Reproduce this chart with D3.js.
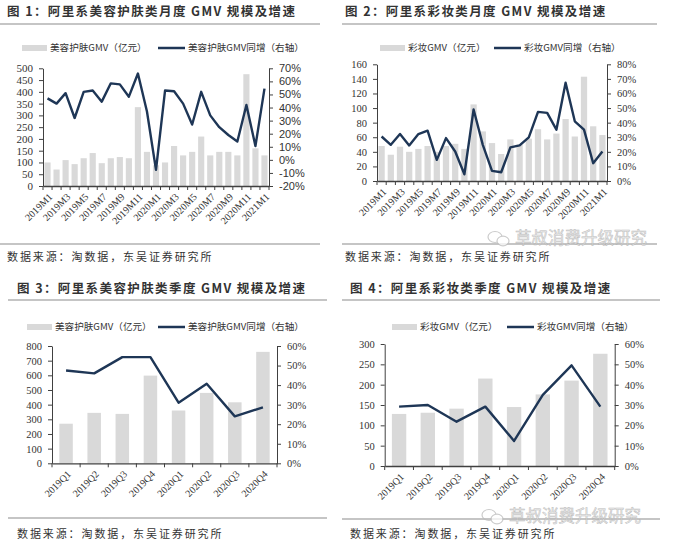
<!DOCTYPE html>
<html><head><meta charset="utf-8">
<script src="https://cdn.jsdelivr.net/npm/d3@7"></script>
<style>body{margin:0;background:#fff}</style>
</head><body>
<svg id="c" width="684" height="551"></svg>
<script>
// ---------- data ----------
const months = ["2019M1","2019M2","2019M3","2019M4","2019M5","2019M6","2019M7","2019M8","2019M9","2019M10","2019M11","2019M12",
  "2020M1","2020M2","2020M3","2020M4","2020M5","2020M6","2020M7","2020M8","2020M9","2020M10","2020M11","2020M12","2021M1"];
const quarters = ["2019Q1","2019Q2","2019Q3","2019Q4","2020Q1","2020Q2","2020Q3","2020Q4"];

const skinMonthlyGMV = [100, 70, 110, 93, 118, 140, 97, 118, 123, 118, 335, 145, 88, 100, 170, 130, 145, 210, 130, 145, 145, 130, 475, 160, 130];
const skinMonthlyYoY = [47, 43, 51, 32, 52, 53, 44.5, 58.5, 57.7, 48.3, 66, 37, -7.7, 53, 52.5, 43, 27, 52, 34, 25, 19, 14, 42, 10.5, 54.5];

const makeupMonthlyGMV = [48, 36, 47, 40, 44, 48, 40, 48, 51, 44, 105, 68, 52, 37, 57, 50, 58, 71, 57, 65, 85, 61, 143, 75, 63];
const makeupMonthlyYoY = [30.5, 24.8, 32.2, 24.4, 32.2, 34.5, 14.5, 29.4, 20.2, 4.6, 49, 24.8, 6.9, 6, 23, 24.4, 29.9, 47.4, 46.7, 35.2, 67.4, 40.9, 35.2, 12.2, 20.2];

const skinQuarterGMV = [270, 344, 337, 598, 360, 480, 416, 760];
const skinQuarterYoY = [47.5, 46, 54.3, 54.3, 31, 40.7, 24, 28.6];

const makeupQuarterGMV = [128, 131, 141, 215, 145, 176, 210, 276];
const makeupQuarterYoY = [29.2, 30, 21.8, 29.2, 12.3, 35, 49.5, 29.2];

const titles = ["图 1：阿里系美容护肤类月度 GMV 规模及增速","图 2：阿里系彩妆类月度 GMV 规模及增速",
                "图 3：阿里系美容护肤类季度 GMV 规模及增速","图 4：阿里系彩妆类季度 GMV 规模及增速"];
const sourceText = "数据来源：淘数据，东吴证券研究所";
const watermark = "草叔消费升级研究";

// ---------- drawing ----------
const BAR = "#d9d9d9", LINE = "#1e3656", AX = "#404040", TXT = "#333";
const CJK = "'Noto Sans CJK SC', sans-serif";
const SERIF = "'Liberation Serif', 'DejaVu Serif', serif";
const SANS = "'Liberation Sans', Arial, sans-serif";

const svg = d3.select("#c");
svg.append("rect").attr("width",684).attr("height",551).attr("fill","#fff");

function drawPanel(o){
  const g = svg.append("g");
  // title
  g.append("text").attr("x",o.titleX).attr("y",o.titleY).text(o.title)
    .attr("font-family",CJK).attr("font-weight","bold").attr("font-size",12.5)
    .attr("letter-spacing",1.4).attr("fill",TXT);
  g.append("line").attr("x1",o.ruleX0).attr("x2",o.ruleX1).attr("y1",o.ruleY).attr("y2",o.ruleY)
    .attr("stroke","#8c8c8c").attr("stroke-width",1.2);
  // source
  g.append("line").attr("x1",o.ruleX0).attr("x2",o.ruleX1).attr("y1",o.srcRuleY).attr("y2",o.srcRuleY)
    .attr("stroke","#8c8c8c").attr("stroke-width",1.2);
  g.append("text").attr("x",o.titleX).attr("y",o.srcY).text(sourceText)
    .attr("font-family",CJK).attr("font-size",11).attr("letter-spacing",1.9).attr("fill",TXT);

  // legend
  const L = o.legend;
  g.append("rect").attr("x",L.rx).attr("y",L.y-3).attr("width",25).attr("height",6).attr("fill",BAR);
  g.append("text").attr("x",L.rx+28).attr("y",L.y).attr("dy","0.35em").text(o.barName)
    .attr("font-family",CJK).attr("font-size",9.6).attr("fill",TXT);
  g.append("line").attr("x1",L.lx).attr("x2",L.lx+27).attr("y1",L.y).attr("y2",L.y)
    .attr("stroke",LINE).attr("stroke-width",2.5);
  g.append("text").attr("x",L.lx+30).attr("y",L.y).attr("dy","0.35em").text(o.lineName)
    .attr("font-family",CJK).attr("font-size",9.6).attr("fill",TXT);

  // scales
  const x = d3.scaleBand().domain(o.cats).range([o.x0,o.x1]).paddingInner(o.pad).paddingOuter(o.pad/2);
  const yL = d3.scaleLinear().domain(o.lDomain).range([o.yB,o.yT]);
  const yR = d3.scaleLinear().domain(o.rDomain).range([o.yB,o.yT]);

  // bars
  g.append("g").selectAll("rect").data(o.cats).join("rect")
    .attr("x",d=>x(d)).attr("width",x.bandwidth())
    .attr("y",(d,i)=>yL(o.bars[i])).attr("height",(d,i)=>yL(0)-yL(o.bars[i]))
    .attr("fill",BAR);

  // axes
  const axL = g.append("g").attr("transform",`translate(${o.x0},0)`)
    .call(d3.axisLeft(yL).tickValues(d3.range(o.lDomain[0],o.lDomain[1]+0.001,o.lStep)).tickSize(4).tickSizeOuter(0).tickPadding(6));
  axL.selectAll("text").attr("font-family",o.lFont).attr("font-size",o.fs).attr("fill",TXT);
  const axR = g.append("g").attr("transform",`translate(${o.x1},0)`)
    .call(d3.axisRight(yR).tickValues(d3.range(o.rDomain[0],o.rDomain[1]+0.001,o.rStep)).tickFormat(d=>d+"%").tickSize(4).tickSizeOuter(0).tickPadding(6));
  axR.selectAll("text").attr("font-family",o.rFont).attr("font-size",o.fs).attr("fill",TXT);
  [axL,axR].forEach(a=>{a.selectAll("path,line").attr("stroke",AX);});

  // bottom axis
  const axB = g.append("g").attr("transform",`translate(0,${o.yB})`)
    .call(d3.axisBottom(x).tickSize(0).tickSizeOuter(0).tickFormat(""));
  axB.select("path").attr("stroke",AX).attr("stroke-width",1.3);
  const step = x.step();
  const bounds = d3.range(o.cats.length+1).map(i=>x(o.cats[0]) - (step-x.bandwidth())/2 + i*step);
  axB.selectAll("line.bt").data(bounds).join("line").attr("class","bt")
    .attr("x1",d=>d).attr("x2",d=>d).attr("y1",0).attr("y2",4).attr("stroke",AX);
  const labCats = o.cats.filter((d,i)=>i % o.every === 0);
  g.append("g").selectAll("text").data(labCats).join("text")
    .attr("transform",d=>`translate(${x(d)+x.bandwidth()/2+3},${o.yB+9}) rotate(-45)`)
    .attr("text-anchor","end").attr("dy","0.35em").text(d=>d)
    .attr("font-family",SERIF).attr("font-size",o.xfs).attr("fill",TXT);

  // line
  const line = d3.line().x((d,i)=>x(o.cats[i])+x.bandwidth()/2).y(d=>yR(d));
  g.append("path").datum(o.line).attr("d",line).attr("fill","none")
    .attr("stroke",LINE).attr("stroke-width",2.4).attr("stroke-linejoin","round");

  // watermark
  if(o.wm){
    const w = g.append("g").attr("opacity",0.75);
    w.append("ellipse").attr("cx",o.wm.x+7).attr("cy",o.wm.y-1).attr("rx",7).attr("ry",5.5)
      .attr("fill","none").attr("stroke","#bbb").attr("stroke-width",1.2);
    w.append("ellipse").attr("cx",o.wm.x+15).attr("cy",o.wm.y+3).attr("rx",6).attr("ry",4.8)
      .attr("fill","#fff").attr("stroke","#bbb").attr("stroke-width",1.2);
    w.append("text").attr("x",o.wm.x+27).attr("y",o.wm.y).attr("dy","0.35em").text(watermark)
      .attr("font-family",CJK).attr("font-size",16.5).attr("fill","#e6e6e6")
      .attr("stroke","#a8a8a8").attr("stroke-width",0.5);
  }
}

drawPanel({title:titles[0], titleX:7, titleY:16, ruleX0:0, ruleX1:320, ruleY:24, srcRuleY:244, srcY:261,
  legend:{rx:22, lx:158, y:48}, barName:"美容护肤GMV（亿元）", lineName:"美容护肤GMV同增（右轴）",
  cats:months, bars:skinMonthlyGMV, line:skinMonthlyYoY, pad:0.32,
  x0:43, x1:269, yT:68.3, yB:186, lDomain:[0,500], lStep:50, rDomain:[-20,70], rStep:10,
  lFont:SERIF, rFont:SANS, fs:11, xfs:10, every:2});

drawPanel({title:titles[1], titleX:345, titleY:16, ruleX0:342, ruleX1:657, ruleY:24, srcRuleY:244, srcY:261,
  legend:{rx:380, lx:494, y:48}, barName:"彩妆GMV（亿元）", lineName:"彩妆GMV同增（右轴）",
  cats:months, bars:makeupMonthlyGMV, line:makeupMonthlyYoY, pad:0.32,
  x0:377, x1:607, yT:64.3, yB:181, lDomain:[0,160], lStep:20, rDomain:[0,80], rStep:10,
  lFont:SERIF, rFont:SERIF, fs:10.5, xfs:10, every:2, wm:{x:488, y:238}});

drawPanel({title:titles[2], titleX:17, titleY:293, ruleX0:8, ruleX1:327, ruleY:300, srcRuleY:518, srcY:538,
  legend:{rx:27, lx:158, y:327}, barName:"美容护肤GMV（亿元）", lineName:"美容护肤GMV同增（右轴）",
  cats:quarters, bars:skinQuarterGMV, line:skinQuarterYoY, pad:0.52,
  x0:52, x1:277, yT:346, yB:463.3, lDomain:[0,800], lStep:100, rDomain:[0,60], rStep:10,
  lFont:SERIF, rFont:SERIF, fs:10.5, xfs:10, every:1});

drawPanel({title:titles[3], titleX:350, titleY:293, ruleX0:342, ruleX1:660, ruleY:300, srcRuleY:519, srcY:538,
  legend:{rx:392, lx:507, y:327}, barName:"彩妆GMV（亿元）", lineName:"彩妆GMV同增（右轴）",
  cats:quarters, bars:makeupQuarterGMV, line:makeupQuarterYoY, pad:0.5,
  x0:384.7, x1:614.7, yT:344, yB:466, lDomain:[0,300], lStep:50, rDomain:[0,60], rStep:10,
  lFont:SERIF, rFont:SERIF, fs:10.5, xfs:10, every:1, wm:{x:482, y:516}});
</script>
</body></html>
